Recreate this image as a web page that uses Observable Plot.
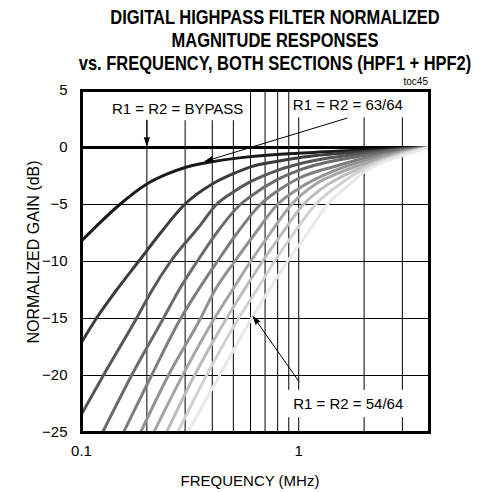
<!DOCTYPE html>
<html><head><meta charset="utf-8">
<script src="https://cdn.jsdelivr.net/npm/d3@7"></script>
<script src="https://cdn.jsdelivr.net/npm/@observablehq/plot@0.6"></script>
<style>
body{margin:0;background:#fff;}
#chart{width:481px;height:492px;}
</style></head><body><div id="chart"></div>
<script>
// ---- data ----
const titleLines = ["DIGITAL HIGHPASS FILTER NORMALIZED", "MAGNITUDE RESPONSES", "vs. FREQUENCY, BOTH SECTIONS (HPF1 + HPF2)"];
const tocLabel = "toc45";
const xLabel = "FREQUENCY (MHz)";
const yLabel = "NORMALIZED GAIN (dB)";
const xTicks = [0.1, 1];
const yTicks = [5, 0, -5, -10, -15, -20, -25];
const xGrid = [0.2, 0.3, 0.4, 0.5, 0.6, 0.7, 0.8, 0.9, 1, 2, 3];
const yGrid = [-20, -15, -10, -5];

const names = ["63/64","62/64","61/64","60/64","59/64","58/64","57/64","56/64","55/64","54/64"];
const shades = ["#1a1a1a","#3c3c3c","#575757","#6b6b6b","#7e7e7e","#929292","#a6a6a6","#bcbcbc","#d2d2d2","#e8e8e8"];

const bypass = [[0.1, 0], [4, 0]];
const r63 = [[0.1,-8.2],[0.12,-6.7],[0.15,-5.0],[0.2,-3.2],[0.25,-2.3],[0.3,-1.75],[0.4,-1.25],[0.6,-0.8],[1,-0.5],[2,-0.22],[3,-0.07],[4,0]];
const r62 = [[0.1,-17.1],[0.117,-15],[0.145,-12.5],[0.183,-10],[0.231,-7.5],[0.298,-5],[0.4,-3.2],[0.5,-2.3],[0.6,-1.7],[0.8,-1.2],[1,-0.9],[2,-0.35],[3,-0.1],[4,0]];
const r61 = [[0.1,-23.4],[0.126,-20],[0.179,-15],[0.21,-12.6],[0.257,-10],[0.346,-7.0],[0.418,-5],[0.5,-3.9],[0.6,-3.0],[0.8,-2.0],[1,-1.45],[2,-0.5],[3,-0.15],[4,0]];
const r60 = [[0.125,-25],[0.17,-20],[0.238,-15],[0.279,-12.6],[0.346,-9.8],[0.422,-7.4],[0.539,-5],[0.6,-4.3],[0.8,-2.8],[1,-2.0],[2,-0.7],[3,-0.2],[4,0]];
const r59 = [[0.156,-25],[0.21,-20],[0.286,-15],[0.342,-12.6],[0.422,-10],[0.521,-7.5],[0.666,-5],[0.8,-3.8],[1,-2.7],[1.5,-1.6],[2,-0.95],[3,-0.3],[4,0]];
const r58 = [[0.187,-25],[0.251,-20],[0.353,-15],[0.409,-12.6],[0.507,-10],[0.632,-7.5],[0.798,-5],[1,-3.6],[1.5,-1.95],[2,-1.15],[3,-0.35],[4,0]];
const r57 = [[0.215,-25],[0.292,-20],[0.409,-15],[0.495,-12.5],[0.6,-10],[0.741,-7.5],[0.926,-5],[1.2,-3.2],[1.5,-2.3],[2,-1.4],[3,-0.42],[4,0]];
const r56 = [[0.246,-25],[0.331,-20],[0.465,-15],[0.56,-12.5],[0.681,-10],[0.84,-7.5],[1.051,-5],[1.3,-3.5],[1.6,-2.5],[2,-1.65],[3,-0.5],[4,0]];
const r55 = [[0.277,-25],[0.376,-20],[0.528,-15],[0.64,-12.5],[0.773,-10],[0.95,-7.5],[1.194,-5],[1.5,-3.4],[2,-1.85],[3,-0.6],[4,0]];
const r54 = [[0.308,-25],[0.432,-20],[0.606,-15],[0.73,-12.5],[0.887,-10],[1.1,-7.5],[1.356,-5],[1.7,-3.3],[2,-2.15],[3,-0.7],[4,0]];

// annotations (data coordinates)
const labelText = ["R1 = R2 = BYPASS", "R1 = R2 = 63/64", "R1 = R2 = 54/64"];
const labelX = [0.277, 1.684, 1.69];
const labelY = [3.4, 3.75, -22.55];
const boxX1 = [0.122, 0.95, 0.87];
const boxX2 = [0.57, 3.13, 3.16];
const boxY1 = [2.35, 2.6, -23.7];
const boxY2 = [5, 5, -21.3];
const arrowX1 = [0.2, 1.67, 1.0];
const arrowY1 = [2.4, 2.58, -20.5];
const arrowX2 = [0.2, 0.372, 0.619];
const arrowY2 = [0.2, -1.2, -14.85];

// ---- build ----
const curves = [r63, r62, r61, r60, r59, r58, r57, r56, r55, r54];
const table = curves.flatMap((pts, i) => pts.map(([f, db]) => ({name: names[i], f, db})));
const labels = labelText.map((t, i) => ({t, x: labelX[i], y: labelY[i]}));
const boxes = boxX1.map((d, i) => ({x1: d, x2: boxX2[i], y1: boxY1[i], y2: boxY2[i]}));
const arrows = arrowX1.map((d, i) => ({x1: d, y1: arrowY1[i], x2: arrowX2[i], y2: arrowY2[i]}));

const font = "'Liberation Sans', Arial, sans-serif";
const plot = Plot.plot({
  width: 481, height: 492,
  marginLeft: 81, marginRight: 52, marginTop: 90, marginBottom: 60,
  style: {fontFamily: font, fontSize: "15px", color: "#000", background: "#fff"},
  x: {type: "log", domain: [0.1, 4], ticks: xTicks, tickFormat: d => String(d), tickSize: 0, tickPadding: 13, label: null},
  y: {domain: [-25, 5], ticks: yTicks, tickSize: 0, tickPadding: 14, label: null},
  color: {domain: names, range: shades},
  marks: [
    Plot.ruleX(xGrid, {stroke: "#000", strokeWidth: 1}),
    Plot.ruleY(yGrid, {stroke: "#000", strokeWidth: 1}),
    Plot.rect(boxes, {x1: "x1", x2: "x2", y1: "y1", y2: "y2", fill: "#fff"}),
    Plot.line(bypass, {x: d => d[0], y: d => d[1], stroke: "#000", strokeWidth: 3}),
    Plot.line(table, {x: "f", y: "db", z: "name", stroke: "name", strokeWidth: 3, curve: "monotone-x"}),
    Plot.arrow(arrows, {x1: "x1", y1: "y1", x2: "x2", y2: "y2", stroke: "#000", fill: "#000", strokeWidth: 1, headLength: 12, headAngle: 36}),
    Plot.text(labels, {x: "x", y: "y", text: "t", fontSize: 15, fill: "#000"}),
    Plot.frame({stroke: "#000", strokeWidth: 3})
  ]
});
document.getElementById("chart").appendChild(plot);

const svg = d3.select(plot);
const titleY = [24, 47, 70];
titleLines.forEach((t, i) => {
  svg.append("text").attr("transform", `translate(275,${titleY[i]}) scale(1,1.18)`).attr("text-anchor", "middle")
    .attr("font-family", font).attr("font-weight", "bold").attr("font-size", 16.5).text(t);
});
svg.append("text").attr("x", 428).attr("y", 85).attr("text-anchor", "end")
  .attr("font-family", font).attr("font-size", 10).text(tocLabel);
svg.append("text").attr("transform", "translate(33,252) rotate(-90)").attr("text-anchor", "middle")
  .attr("dy", "0.35em").attr("font-family", font).attr("font-size", 16).text(yLabel);
svg.append("text").attr("x", 250).attr("y", 481).attr("text-anchor", "middle")
  .attr("dy", "0.35em").attr("font-family", font).attr("font-size", 15).text(xLabel);
</script>
</body></html>
